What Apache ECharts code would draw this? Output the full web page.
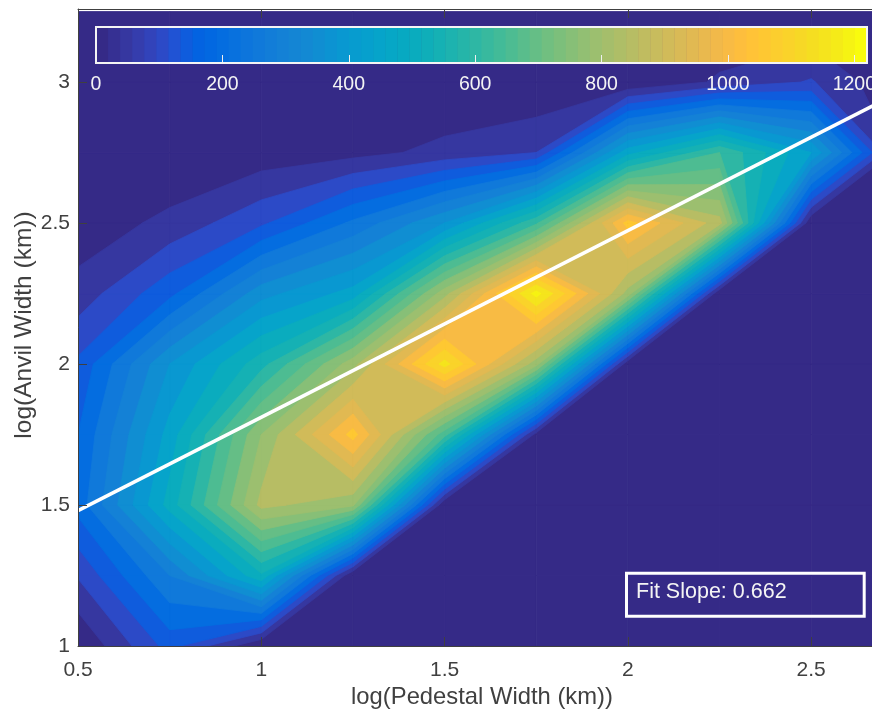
<!DOCTYPE html>
<html>
<head>
<meta charset="utf-8">
<style>html,body{margin:0;padding:0;background:#fff;overflow:hidden}#c{width:872px;height:710px}</style>
<script src="https://cdn.jsdelivr.net/npm/echarts@6/dist/echarts.min.js"></script>
</head>
<body>
<div id="c"></div>
<script>
const xBins = [0.5,0.75,1,1.25,1.5,1.75,2,2.25,2.5,2.75];
const yBins = [1,1.25,1.5,1.75,2,2.25,2.5,2.75,3,3.25];
const countsY100 = [0,170,0,0,0,0,0,0,0,0];
const countsY125 = [105,300,540,0,0,0,0,0,0,0];
const countsY150 = [220,520,865,810,0,0,0,0,0,0];
const countsY175 = [200,470,800,1070,670,30,0,0,0,0];
const countsY200 = [160,400,580,830,1170,820,10,0,0,0];
const countsY225 = [70,185,380,470,830,1220,830,0,0,0];
const countsY250 = [17,64,140,260,400,640,1070,870,0,0];
const countsY275 = [0,0,18,32,65,100,480,650,450,0];
const countsY300 = [0,0,0,0,0,0,0,58,105,0];
const countsY325 = [0,0,0,0,0,0,0,0,0,0];
const counts = [countsY100,countsY125,countsY150,countsY175,countsY200,countsY225,countsY250,countsY275,countsY300,countsY325];
const levels = [0,50,100,150,200,250,300,350,400,450,500,550,600,650,700,750,800,850,900,950,1000,1050,1100,1150,1200];
const xTicks = [0.5,1,1.5,2,2.5];
const yTicks = [1,1.5,2,2.5,3];
const barTicks = [0,200,400,600,800,1000,1200];
const fitLine = [[0.5,1.48],[2.75,2.97]];
const fitText = 'Fit Slope: 0.662';
const parula = [[.2081,.1663,.5292],[.2116,.1898,.5777],[.2123,.2138,.627],[.2081,.2386,.6771],[.1959,.2645,.7279],[.1707,.2919,.7792],[.1253,.3242,.8303],[.0591,.3598,.8683],[.0117,.3875,.882],[.006,.4086,.8828],[.0165,.4266,.8786],[.0329,.443,.872],[.0498,.4586,.8641],[.0629,.4737,.8554],[.0723,.4887,.8467],[.0779,.504,.8384],[.0793,.52,.8312],[.0749,.5375,.8263],[.0641,.557,.824],[.0488,.5772,.8228],[.0343,.5966,.8199],[.0265,.6137,.8135],[.0239,.6287,.8038],[.0231,.6418,.7913],[.0228,.6535,.7768],[.0267,.6642,.7607],[.0384,.6743,.7436],[.059,.6838,.7254],[.0843,.6928,.7062],[.1133,.7015,.6859],[.1453,.7098,.6646],[.1801,.7177,.6424],[.2178,.725,.6193],[.2586,.7317,.5954],[.3022,.7376,.5712],[.3482,.7424,.5473],[.3953,.7459,.5244],[.442,.7481,.5033],[.4871,.7491,.484],[.53,.7491,.4661],[.5709,.7485,.4494],[.6099,.7473,.4337],[.6473,.7456,.4188],[.6834,.7435,.4044],[.7184,.7411,.3905],[.7525,.7384,.3768],[.7858,.7356,.3633],[.8185,.7327,.3498],[.8507,.7299,.336],[.8824,.7274,.3217],[.9139,.7258,.3063],[.945,.7261,.2886],[.9739,.7314,.2666],[.9938,.7455,.2403],[.999,.7653,.2164],[.9955,.7861,.1967],[.988,.8066,.1794],[.9789,.8271,.1633],[.9697,.8481,.1475],[.9626,.8705,.1309],[.9589,.8949,.1132],[.9598,.9218,.0948],[.9661,.9514,.0755],[.9763,.9831,.0538]];
const barMax = 1220;
const inkColor = '#404040';
const fontName = '"Liberation Sans", Arial, sans-serif';

const rgb = c => 'rgb(' + c.map(v => Math.round(v*255)).join(',') + ')';
const colorOf = v => rgb(parula[Math.min(63, Math.floor(v / barMax * 64))]);

function crossing(a, b, level) {
  const t = (level - a[2]) / (b[2] - a[2]);
  return [a[0] + t*(b[0]-a[0]), a[1] + t*(b[1]-a[1]), level];
}
function regionsAbove(q, level) {
  const up = q.map(p => p[2] >= level);
  if (up[0] === up[2] && up[1] === up[3] && up[0] !== up[1]) {
    const mean = (q[0][2] + q[1][2] + q[2][2] + q[3][2]) / 4;
    if (mean < level) {
      const first = up[0] ? 0 : 1;
      return [first, first + 2].map(k => {
        const c = q[k % 4], n = q[(k + 1) % 4], p = q[(k + 3) % 4];
        return [c, crossing(c, n, level), crossing(c, p, level)];
      });
    }
  }
  const out = [];
  for (let i = 0; i < 4; i++) {
    const a = q[i], b = q[(i + 1) % 4];
    if (up[i]) out.push(a);
    if (up[i] !== up[(i + 1) % 4]) out.push(crossing(a, b, level));
  }
  return out.length >= 3 ? [out] : [];
}

function renderLevel(params, api) {
  const level = api.value(0);
  const col = colorOf(level);
  const children = [];
  for (let j = 0; j < yBins.length - 1; j++) {
    for (let i = 0; i < xBins.length - 1; i++) {
      const quad = [
        [xBins[i], yBins[j], counts[j][i]],
        [xBins[i+1], yBins[j], counts[j][i+1]],
        [xBins[i+1], yBins[j+1], counts[j+1][i+1]],
        [xBins[i], yBins[j+1], counts[j+1][i]]
      ];
      for (const poly of regionsAbove(quad, level)) {
        children.push({
          type: 'polygon',
          shape: { points: poly.map(p => api.coord([p[0], p[1]])) },
          style: { fill: col, stroke: col, lineWidth: 0.8 }
        });
      }
    }
  }
  return { type: 'group', children };
}

const swatches = parula.map((c, k) => [k * barMax / 64, (k + 1) * barMax / 64, k]);
function renderSwatch(params, api) {
  const a = api.coord([api.value(0), 0]), b = api.coord([api.value(1), 1]);
  return { type: 'rect', shape: { x: a[0], y: b[1], width: b[0]-a[0]+0.5, height: a[1]-b[1] }, style: { fill: rgb(parula[api.value(2)]) } };
}
function renderBarFrame(params, api) {
  const a = api.coord([0, 0]), b = api.coord([barMax, 1]);
  return { type: 'rect', shape: { x: a[0], y: b[1], width: b[0]-a[0], height: a[1]-b[1] }, style: { fill: 'none', stroke: '#f4f4f4', lineWidth: 2 } };
}

const chart = echarts.init(document.getElementById('c'), null, { renderer: 'canvas' });
const mainLabel = { color: inkColor, fontFamily: fontName, fontSize: 21 };
const mainLine = { show: true, onZero: false, lineStyle: { color: inkColor, width: 1 } };
chart.setOption({
  animation: false,
  backgroundColor: '#ffffff',
  textStyle: { fontFamily: fontName },
  grid: [
    { left: 78, top: 9, width: 794, height: 637, containLabel: false, outerBoundsMode: 'none' },
    { left: 96, top: 27, width: 771, height: 36, containLabel: false, outerBoundsMode: 'none' }
  ],
  xAxis: [
    { gridIndex: 0, type: 'value', min: 0.5, max: 2.666, position: 'bottom', z: 5,
      name: 'log(Pedestal Width (km))', nameLocation: 'middle', nameGap: 37,
      nameTextStyle: { color: inkColor, fontFamily: fontName, fontSize: 23.8, padding: [0,0,0,14] },
      axisLine: mainLine, splitLine: { show: false },
      axisTick: { show: true, inside: true, length: 9, lineStyle: { color: inkColor }, customValues: xTicks },
      axisLabel: Object.assign({ margin: 14, customValues: xTicks, formatter: v => String(v), hideOverlap: false }, mainLabel) },
    { gridIndex: 0, type: 'value', min: 0.5, max: 2.666, position: 'top', z: 5,
      axisLine: mainLine, splitLine: { show: false },
      axisTick: { show: true, inside: true, length: 9, lineStyle: { color: inkColor }, customValues: xTicks },
      axisLabel: { show: false } },
    { gridIndex: 1, type: 'value', min: 0, max: barMax, position: 'bottom', z: 8,
      axisLine: { show: false }, splitLine: { show: false },
      axisTick: { show: true, inside: true, length: 8, lineStyle: { color: '#f0f0f0', width: 1 }, customValues: barTicks },
      axisLabel: { color: '#f4f4f4', fontFamily: fontName, fontSize: 19.5, margin: 12, customValues: barTicks, formatter: v => String(v) } }
  ],
  yAxis: [
    { gridIndex: 0, type: 'value', min: 1, max: 3.259, position: 'left', z: 5,
      name: 'log(Anvil Width (km))', nameLocation: 'middle', nameGap: 41, nameMoveOverlap: false,
      nameTextStyle: { color: inkColor, fontFamily: fontName, fontSize: 24.5, padding: [0,0,0,5] },
      axisLine: mainLine, splitLine: { show: false },
      axisTick: { show: true, inside: true, length: 9, lineStyle: { color: inkColor }, customValues: yTicks },
      axisLabel: Object.assign({ margin: 8, customValues: yTicks, formatter: v => String(v) }, mainLabel) },
    { gridIndex: 1, type: 'value', min: 0, max: 1, show: false }
  ],
  series: [
    { type: 'custom', name: 'counts', xAxisIndex: 0, yAxisIndex: 0, z: 1, clip: true, silent: true,
      data: levels.map(l => [l]), encode: { y: 0 }, renderItem: renderLevel },
    { type: 'line', name: 'fit', xAxisIndex: 0, yAxisIndex: 0, z: 4, clip: true, silent: true,
      data: fitLine, symbol: 'none', lineStyle: { color: '#ffffff', width: 3.5 } },
    { type: 'custom', name: 'colorbar', xAxisIndex: 2, yAxisIndex: 1, z: 6, silent: true,
      data: swatches, encode: { x: [0, 1] }, renderItem: renderSwatch },
    { type: 'custom', name: 'colorbar frame', xAxisIndex: 2, yAxisIndex: 1, z: 9, silent: true,
      data: [[0, barMax]], encode: { x: [0, 1] }, renderItem: renderBarFrame }
  ],
  graphic: [
    { type: 'rect', z: 20, shape: { x: 626.5, y: 573.2, width: 237.7, height: 43 }, style: { fill: 'none', stroke: '#ffffff', lineWidth: 3 } },
    { type: 'text', z: 20, style: { x: 636, y: 592, text: fitText, fill: '#f4f4f4', font: '21.5px ' + fontName, textVerticalAlign: 'middle' } }
  ]
});
</script>
</body>
</html>
